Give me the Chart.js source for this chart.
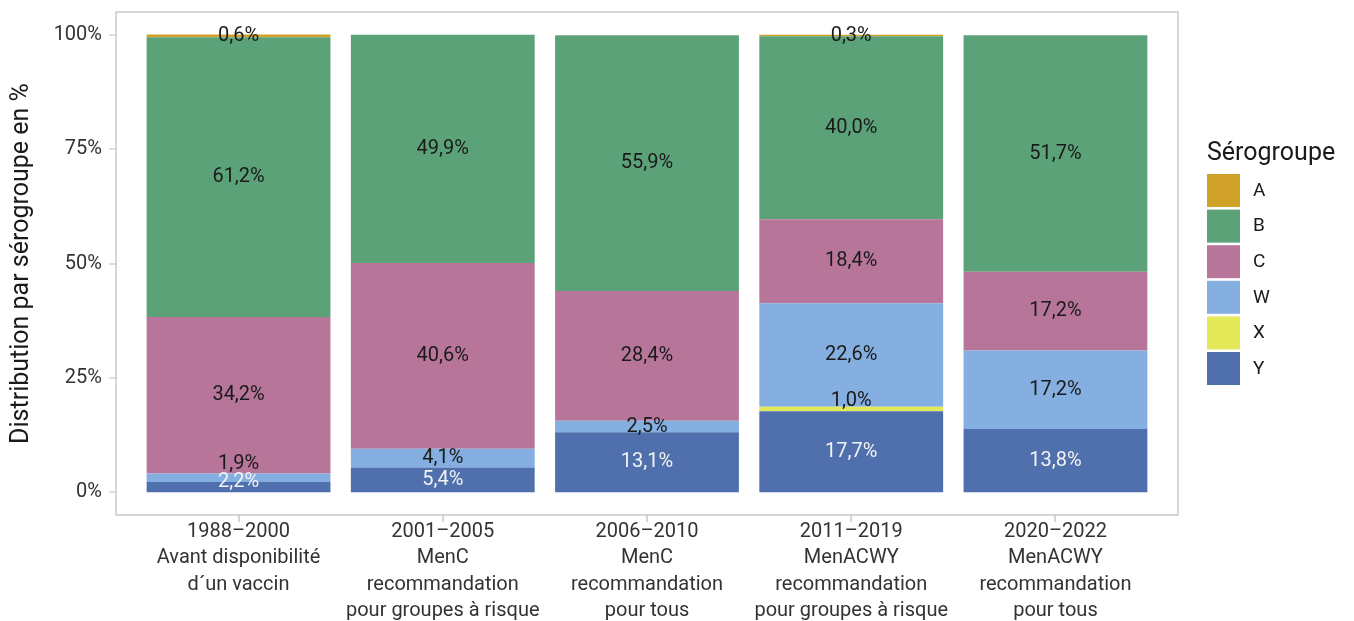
<!DOCTYPE html>
<html>
<head>
<meta charset="utf-8">
<script src="https://cdn.jsdelivr.net/npm/chart.js@4.4.1/dist/chart.umd.min.js"></script>
<style>
  html, body { margin: 0; padding: 0; background: #fff; }
  #wrap { width: 1354px; height: 621px; }
</style>
</head>
<body>
<div id="wrap"><canvas id="chart" width="1354" height="621"></canvas></div>
<script>
// periods on the x axis (one multi-line label each)
const periodLabels = [
    ['1988–2000', 'Avant disponibilité', 'd´un vaccin'],
    ['2001–2005', 'MenC', 'recommandation', 'pour groupes à risque'],
    ['2006–2010', 'MenC', 'recommandation', 'pour tous'],
    ['2011–2019', 'MenACWY', 'recommandation', 'pour groupes à risque'],
    ['2020–2022', 'MenACWY', 'recommandation', 'pour tous']
];

// share per serogroup in %, one value per period
const serogroupY = [2.2, 5.4, 13.1, 17.7, 13.8];
const serogroupX = [0, 0, 0, 1.0, 0];
const serogroupW = [1.9, 4.1, 2.5, 22.6, 17.2];
const serogroupC = [34.2, 40.6, 28.4, 18.4, 17.2];
const serogroupB = [61.2, 49.9, 55.9, 40.0, 51.7];
const serogroupA = [0.6, 0, 0, 0.3, 0];

const yTicks = [0, 25, 50, 75, 100];

const FONT = 'Roboto, "Noto Sans", sans-serif';

// stacked bottom to top
const series = [
    { label: 'Y', values: serogroupY, color: '#4f70ad', text: '#f2f2f2' },
    { label: 'X', values: serogroupX, color: '#e4e95a', text: '#1a1a1a' },
    { label: 'W', values: serogroupW, color: '#84afe0', text: '#1a1a1a' },
    { label: 'C', values: serogroupC, color: '#b77699', text: '#1a1a1a' },
    { label: 'B', values: serogroupB, color: '#5ca279', text: '#1a1a1a' },
    { label: 'A', values: serogroupA, color: '#d1a22a', text: '#1a1a1a' }
];

function formatPct(v) {
    return v.toFixed(1).replace('.', ',') + '%';
}

// panel border and axis tick marks like the ggplot theme
const panelBorder = {
    id: 'panelBorder',
    afterDraw(chart) {
        const a = chart.chartArea;
        const ctx = chart.ctx;
        ctx.save();
        ctx.strokeStyle = '#bdbdbd';
        ctx.lineWidth = 1.2;
        ctx.strokeRect(a.left, a.top, a.right - a.left, a.bottom - a.top);
        ctx.beginPath();
        chart.scales.x.ticks.forEach(t => {
            const px = Math.round(chart.scales.x.getPixelForValue(t.value));
            ctx.moveTo(px, a.bottom);
            ctx.lineTo(px, a.bottom + 7);
        });
        chart.scales.y.ticks.forEach(t => {
            const py = Math.round(chart.scales.y.getPixelForValue(t.value));
            ctx.moveTo(a.left, py);
            ctx.lineTo(a.left - 7, py);
        });
        ctx.stroke();
        ctx.restore();
    }
};

// value labels in the middle of each segment, pushed up when they would overlap
const segmentLabels = {
    id: 'segmentLabels',
    afterDatasetsDraw(chart) {
        const ctx = chart.ctx;
        ctx.save();
        ctx.font = '20px ' + FONT;
        ctx.textAlign = 'center';
        ctx.textBaseline = 'middle';
        periodLabels.forEach((_, i) => {
            let prev = null;
            const lastIdx = series.reduce((m, s, d) => s.values[i] > 0 ? d : m, -1);
            series.forEach((s, d) => {
                const v = s.values[i];
                if (!v) return;
                const bar = chart.getDatasetMeta(d).data[i];
                let y = (bar.y + bar.base) / 2;
                if (prev === null) {
                    y = Math.min(y, bar.base - 10);
                } else {
                    y = Math.min(y, prev - 18);
                }
                if (v < 1.5 && d !== lastIdx) y -= 8;
                ctx.fillStyle = s.text;
                ctx.fillText(formatPct(v), bar.x, y);
                prev = y;
            });
        });
        ctx.restore();
    }
};

// legend on the right, top to bottom = reverse stacking order
const sideLegend = {
    id: 'sideLegend',
    afterDraw(chart) {
        const ctx = chart.ctx;
        const x = chart.chartArea.right + 29;
        ctx.save();
        ctx.fillStyle = '#1a1a1a';
        ctx.font = '25px ' + FONT;
        ctx.textBaseline = 'alphabetic';
        ctx.textAlign = 'left';
        ctx.fillText('Sérogroupe', x, 160);
        ctx.font = '19px ' + FONT;
        ctx.textBaseline = 'middle';
        const items = series.slice().reverse();
        items.forEach((s, k) => {
            const top = 174 + k * 35.6;
            ctx.fillStyle = s.color;
            ctx.fillRect(x, top, 33, 33);
            ctx.fillStyle = '#1a1a1a';
            ctx.fillText(s.label, x + 46, top + 17);
        });
        ctx.restore();
    }
};

const datasets = series.map(s => ({
    label: s.label,
    data: s.values.map((v, i) => ({ x: i, y: v })),
    backgroundColor: s.color,
    borderWidth: 0,
    barPercentage: 0.9,
    categoryPercentage: 1.0
}));

new Chart(document.getElementById('chart'), {
    type: 'bar',
    data: { datasets: datasets },
    plugins: [panelBorder, segmentLabels, sideLegend],
    options: {
        responsive: false,
        animation: false,
        layout: { padding: { top: 12, right: 176, left: 0, bottom: 0 } },
        plugins: {
            legend: { display: false },
            tooltip: { enabled: false }
        },
        scales: {
            x: {
                type: 'linear',
                stacked: true,
                min: -0.6,
                max: 4.6,
                offset: false,
                afterBuildTicks: scale => {
                    scale.ticks = periodLabels.map((_, i) => ({ value: i }));
                },
                afterFit: scale => {
                    scale.height = 106;
                    scale.paddingLeft = 0;
                    scale.paddingRight = 0;
                },
                border: { display: false },
                grid: { display: false, drawTicks: false },
                ticks: {
                    autoSkip: false,
                    maxRotation: 0,
                    padding: 4,
                    color: '#333333',
                    font: { family: FONT, size: 20, lineHeight: 1.315 },
                    callback: value => periodLabels[value] || ''
                }
            },
            y: {
                stacked: true,
                min: -5,
                max: 105,
                afterBuildTicks: scale => {
                    scale.ticks = yTicks.map(v => ({ value: v }));
                },
                afterFit: scale => {
                    scale.width = 116;
                    scale.paddingTop = 0;
                    scale.paddingBottom = 0;
                },
                border: { display: false },
                grid: { display: false, drawTicks: false },
                ticks: {
                    padding: 14,
                    color: '#333333',
                    font: { family: FONT, size: 20 },
                    callback: value => value + '%'
                },
                title: {
                    display: true,
                    text: 'Distribution par sérogroupe en %',
                    color: '#1a1a1a',
                    font: { family: FONT, size: 25 },
                    padding: { top: 7, bottom: 0 }
                }
            }
        }
    }
});
</script>
</body>
</html>
